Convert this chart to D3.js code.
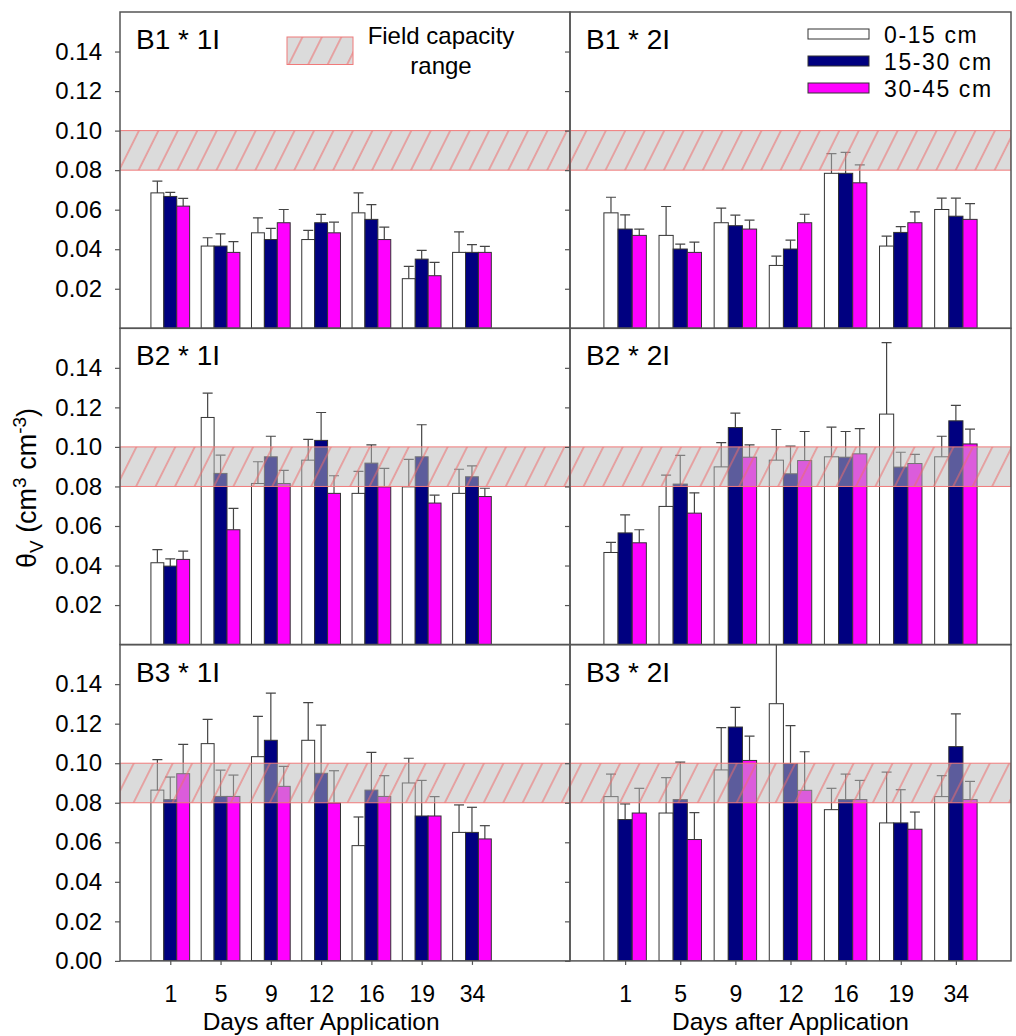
<!DOCTYPE html>
<html>
<head>
<meta charset="utf-8">
<script src="https://cdn.jsdelivr.net/npm/d3@7"></script>
<style>
  body { margin: 0; background: #fff; }
  svg { font-family: "Liberation Sans", Arial, sans-serif; }
</style>
</head>
<body>
<svg id="chart" width="1016" height="1036"></svg>
<script>
// Soil water content by depth, days after application

const DAYS = ["1", "5", "9", "12", "16", "19", "34"];
const DEPTHS = ["0-15 cm", "15-30 cm", "30-45 cm"];
const PANEL_NAMES = ["B1 * 1I", "B1 * 2I", "B2 * 1I", "B2 * 2I", "B3 * 1I", "B3 * 2I"];

const TICKS_TOP = [0.02, 0.04, 0.06, 0.08, 0.10, 0.12, 0.14];
const TICKS_BOTTOM = [0.00, 0.02, 0.04, 0.06, 0.08, 0.10, 0.12, 0.14];
const FC_RANGE = [0.08, 0.10];

// mean values, one array per depth
const B1_1I_MEAN = [
  [0.0685, 0.0416, 0.0483, 0.0449, 0.0584, 0.0251, 0.0384],
  [0.0667, 0.0416, 0.0449, 0.0534, 0.0551, 0.0350, 0.0384],
  [0.0618, 0.0384, 0.0534, 0.0483, 0.0449, 0.0266, 0.0384]
];
const B1_1I_SE = [
  [0.0059, 0.0042, 0.0076, 0.0046, 0.0101, 0.0062, 0.0104],
  [0.0021, 0.0062, 0.0056, 0.0042, 0.0075, 0.0044, 0.0039],
  [0.0039, 0.0054, 0.0067, 0.0054, 0.0063, 0.0067, 0.0030]
];
const B1_2I_MEAN = [
  [0.0584, 0.0470, 0.0534, 0.0318, 0.0784, 0.0416, 0.0601],
  [0.0502, 0.0401, 0.0519, 0.0401, 0.0784, 0.0485, 0.0567],
  [0.0470, 0.0384, 0.0502, 0.0534, 0.0736, 0.0534, 0.0551]
];
const B1_2I_SE = [
  [0.0079, 0.0146, 0.0074, 0.0047, 0.0100, 0.0050, 0.0057],
  [0.0072, 0.0025, 0.0053, 0.0045, 0.0106, 0.0029, 0.0091],
  [0.0032, 0.0052, 0.0045, 0.0043, 0.0091, 0.0055, 0.0080]
];
const B2_1I_MEAN = [
  [0.0414, 0.1149, 0.0815, 0.0933, 0.0765, 0.0798, 0.0765],
  [0.0397, 0.0866, 0.0950, 0.1033, 0.0918, 0.0950, 0.0849],
  [0.0431, 0.0581, 0.0815, 0.0765, 0.0798, 0.0716, 0.0749]
];
const B2_1I_SE = [
  [0.0066, 0.0123, 0.0110, 0.0105, 0.0111, 0.0139, 0.0122],
  [0.0037, 0.0092, 0.0104, 0.0141, 0.0092, 0.0162, 0.0055],
  [0.0042, 0.0108, 0.0066, 0.0089, 0.0093, 0.0040, 0.0042]
];
const B2_2I_MEAN = [
  [0.0466, 0.0699, 0.0899, 0.0933, 0.0950, 0.1166, 0.0950],
  [0.0565, 0.0812, 0.1098, 0.0864, 0.0948, 0.0898, 0.1132],
  [0.0515, 0.0665, 0.0948, 0.0931, 0.0965, 0.0916, 0.1015]
];
const B2_2I_SE = [
  [0.0051, 0.0158, 0.0123, 0.0155, 0.0150, 0.0362, 0.0104],
  [0.0091, 0.0145, 0.0073, 0.0140, 0.0130, 0.0075, 0.0078],
  [0.0066, 0.0103, 0.0062, 0.0147, 0.0128, 0.0046, 0.0075]
];
const B3_1I_MEAN = [
  [0.0864, 0.1099, 0.1033, 0.1116, 0.0583, 0.0900, 0.0650],
  [0.0816, 0.0832, 0.1116, 0.0949, 0.0864, 0.0733, 0.0650],
  [0.0947, 0.0832, 0.0883, 0.0799, 0.0832, 0.0733, 0.0617]
];
const B3_1I_SE = [
  [0.0154, 0.0123, 0.0204, 0.0190, 0.0145, 0.0125, 0.0139],
  [0.0114, 0.0133, 0.0239, 0.0244, 0.0191, 0.0180, 0.0127],
  [0.0148, 0.0108, 0.0101, 0.0163, 0.0105, 0.0098, 0.0067]
];
const B3_2I_MEAN = [
  [0.0831, 0.0748, 0.0966, 0.1301, 0.0765, 0.0698, 0.0831],
  [0.0715, 0.0816, 0.1183, 0.0998, 0.0816, 0.0698, 0.1084],
  [0.0748, 0.0614, 0.1014, 0.0863, 0.0816, 0.0666, 0.0816]
];
const B3_2I_SE = [
  [0.0114, 0.0179, 0.0214, 0.0399, 0.0108, 0.0257, 0.0106],
  [0.0079, 0.0190, 0.0099, 0.0192, 0.0129, 0.0168, 0.0166],
  [0.0125, 0.0136, 0.0123, 0.0195, 0.0097, 0.0087, 0.0092]
];

const MEANS = [B1_1I_MEAN, B1_2I_MEAN, B2_1I_MEAN, B2_2I_MEAN, B3_1I_MEAN, B3_2I_MEAN];
const SES = [B1_1I_SE, B1_2I_SE, B2_1I_SE, B2_2I_SE, B3_1I_SE, B3_2I_SE];

const COLORS = ["#ffffff", "#000080", "#ff00ff"];

// layout
const colX = [120, 570];
const colW = [450, 441];
const colUnits = [8.95, 8];   // slot count across each column
const rowY = [12, 328.3, 644.6];
const rowH = 316.3;
const groupFrac = 0.77;

const svg = d3.select("#chart");
const defs = svg.append("defs");

// hatch for field capacity band
const pat = defs.append("pattern")
  .attr("id", "hatch")
  .attr("patternUnits", "userSpaceOnUse")
  .attr("width", 17.4)
  .attr("height", 10)
  .attr("patternTransform", "rotate(26.57)");
pat.append("line")
  .attr("x1", 8.7).attr("x2", 8.7)
  .attr("y1", 0).attr("y2", 10)
  .attr("stroke", "#ee6a6a")
  .attr("stroke-width", 1);

function drawBand(sel, x, y, w, h) {
  sel.append("rect")
    .attr("x", x).attr("y", y).attr("width", w).attr("height", h)
    .attr("fill", "#b8b8b8").attr("fill-opacity", 0.5);
  sel.append("rect")
    .attr("x", x).attr("y", y).attr("width", w).attr("height", h)
    .attr("fill", "url(#hatch)")
    .attr("stroke", "#f07a7a").attr("stroke-width", 1);
}

PANEL_NAMES.forEach((name, k) => {
  const row = Math.floor(k / 2);
  const col = k % 2;
  const x0 = colX[col], w = colW[col];
  const y0 = rowY[row];

  const x = d3.scaleLinear().domain([0, colUnits[col]]).range([x0, x0 + w]);
  const y = d3.scaleLinear().domain([0, 0.16]).range([y0 + rowH, y0]);
  const step = x(1) - x(0);
  const sub = d3.scaleBand().domain(DEPTHS)
    .range([-step * groupFrac / 2, step * groupFrac / 2]);

  const rows = [];
  DEPTHS.forEach((dep, j) => {
    DAYS.forEach((day, i) => {
      rows.push({ i, j, mean: MEANS[k][j][i], se: SES[k][j][i] });
    });
  });

  const clipId = "clip" + k;
  defs.append("clipPath").attr("id", clipId)
    .append("rect").attr("x", x0).attr("y", y0).attr("width", w).attr("height", rowH);

  const g = svg.append("g");
  const plot = g.append("g").attr("clip-path", `url(#${clipId})`);

  const cx = d => x(d.i + 1) + sub(DEPTHS[d.j]) + sub.bandwidth() / 2;

  // error bars (upper only)
  plot.selectAll(".err")
    .data(rows)
    .enter()
    .append("line")
    .attr("x1", cx).attr("x2", cx)
    .attr("y1", d => y(d.mean))
    .attr("y2", d => y(d.mean + d.se))
    .attr("stroke", "#444").attr("stroke-width", 1.2);

  plot.selectAll(".cap")
    .data(rows)
    .enter()
    .append("line")
    .attr("x1", d => cx(d) - 5).attr("x2", d => cx(d) + 5)
    .attr("y1", d => y(d.mean + d.se))
    .attr("y2", d => y(d.mean + d.se))
    .attr("stroke", "#444").attr("stroke-width", 1.2);

  // bars
  plot.selectAll(".bar")
    .data(rows)
    .enter()
    .append("rect")
    .attr("x", d => x(d.i + 1) + sub(DEPTHS[d.j]))
    .attr("y", d => y(d.mean))
    .attr("width", sub.bandwidth())
    .attr("height", d => y(0) - y(d.mean))
    .attr("fill", d => COLORS[d.j])
    .attr("stroke", "#333")
    .attr("stroke-width", 1);

  // field capacity band on top
  drawBand(plot, x0, y(FC_RANGE[1]), w, y(FC_RANGE[0]) - y(FC_RANGE[1]));

  // frame
  g.append("rect")
    .attr("x", x0).attr("y", y0).attr("width", w).attr("height", rowH)
    .attr("fill", "none").attr("stroke", "#555").attr("stroke-width", 1.5);

  // y axis
  const ya = g.append("g")
    .attr("transform", `translate(${x0},0)`)
    .call(d3.axisLeft(y)
      .tickValues(row === 2 ? TICKS_BOTTOM : TICKS_TOP)
      .tickSize(5)
      .tickPadding(13)
      .tickFormat(col === 0 ? d3.format(".2f") : ""));
  ya.select(".domain").remove();
  ya.selectAll("line").attr("stroke", "#555").attr("stroke-width", 1.2);
  ya.selectAll("text").style("font-size", "24px").attr("fill", "#000");

  // x axis on bottom row
  if (row === 2) {
    const xa = g.append("g")
      .attr("transform", `translate(0,${y0 + rowH})`)
      .call(d3.axisBottom(x)
        .tickValues(DAYS.map((d, i) => i + 1))
        .tickFormat(v => DAYS[v - 1])
        .tickSize(4)
        .tickPadding(21));
    xa.select(".domain").remove();
    xa.selectAll("line").attr("stroke", "#555").attr("stroke-width", 1.2);
    xa.selectAll("text").style("font-size", "23px").attr("fill", "#000");

    g.append("text")
      .attr("x", x(4))
      .attr("y", 1030)
      .attr("text-anchor", "middle")
      .style("font-size", "24.5px")
      .text("Days after Application");
  }

  // panel label
  g.append("text")
    .attr("x", x0 + 16)
    .attr("y", y0 + 37)
    .style("font-size", "28px")
    .text(name);

  // legends
  if (k === 0) {
    drawBand(g, x0 + 167, y0 + 25, 66, 27.5);
    g.append("text")
      .attr("x", x0 + 321).attr("y", y0 + 32)
      .attr("text-anchor", "middle")
      .style("font-size", "24px")
      .text("Field capacity");
    g.append("text")
      .attr("x", x0 + 321).attr("y", y0 + 62)
      .attr("text-anchor", "middle")
      .style("font-size", "24px")
      .text("range");
  }
  if (k === 1) {
    const lg = g.append("g").attr("transform", `translate(${x0 + 238},${y0})`);
    DEPTHS.forEach((dep, j) => {
      lg.append("rect")
        .attr("x", 0).attr("y", 17 + j * 27)
        .attr("width", 61).attr("height", 10)
        .attr("fill", COLORS[j])
        .attr("stroke", "#333");
      lg.append("text")
        .attr("x", 76).attr("y", 31.3 + j * 26.7)
        .style("font-size", "23px")
        .style("letter-spacing", "1.6px")
        .text(dep);
    });
  }
});

// y axis title
const yt = svg.append("text")
  .attr("transform", "translate(36,488) rotate(-90)")
  .attr("text-anchor", "middle")
  .style("font-size", "27px");
yt.append("tspan").text("θ");
yt.append("tspan").attr("dy", 7).style("font-size", "19px").text("V");
yt.append("tspan").attr("dy", -7).text(" (cm");
yt.append("tspan").attr("dy", -10).style("font-size", "19px").text("3");
yt.append("tspan").attr("dy", 10).text(" cm");
yt.append("tspan").attr("dy", -10).style("font-size", "19px").text("-3");
yt.append("tspan").attr("dy", 10).text(")");
</script>
</body>
</html>
